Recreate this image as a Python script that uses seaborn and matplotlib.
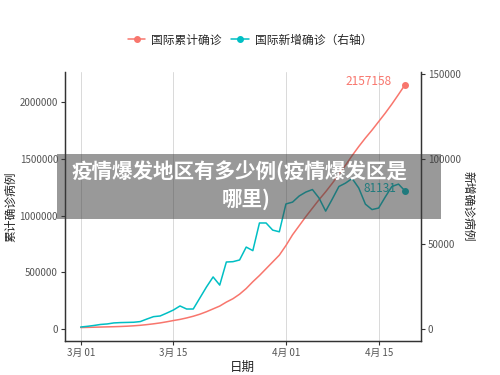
import pandas as pd
import matplotlib.pyplot as plt
import matplotlib.patches as mpatches
from matplotlib.lines import Line2D
import seaborn as sns

# 3/1 .. 4/19
dates = pd.date_range("2020-03-01", "2020-04-19", freq="D")

# cumulative confirmed (left axis)
cum_confirmed = [
    10000, 11500, 13000, 14500, 16000, 17500, 19500, 22000, 25500, 30000,
    36000, 43000, 51000, 61000, 72000, 82000, 95000, 110000, 128000, 150000,
    175000, 200000, 235000, 265000, 305000, 355000, 415000, 470000, 530000, 590000,
    650000, 735000, 830000, 910000, 990000, 1065000, 1140000, 1210000, 1285000, 1365000,
    1445000, 1530000, 1610000, 1685000, 1755000, 1830000, 1905000, 1985000, 2070000, 2157158,
]

# daily new confirmed (right axis)
new_confirmed = [
    1000, 1400, 1900, 2500, 2800, 3400, 3600, 3700, 3800, 4200,
    5700, 7100, 7500, 9200, 11000, 13400, 11600, 11600, 18100, 24600,
    30500, 25700, 39300, 39500, 40500, 48100, 46000, 62300, 62300, 58100,
    57100, 73500, 74600, 78200, 80500, 82000, 77000, 69300, 76400, 83800,
    85800, 88500, 82900, 73400, 70200, 71100, 77600, 83800, 85200, 81131,
]

tick_dates = pd.to_datetime(["2020-03-01", "2020-03-15", "2020-04-01", "2020-04-15"])
tick_labels = ["3月 01", "3月 15", "4月 01", "4月 15"]
left_ticks = [0, 500000, 1000000, 1500000, 2000000]
right_ticks = [0, 50000, 100000, 150000]

series_names = ["国际累计确诊", "国际新增确诊（右轴）"]
red = "#F8766D"
teal = "#00BFC4"

sns.set_theme(style="white")
plt.rcParams["font.family"] = ["Noto Sans CJK SC", "DejaVu Sans"]

fig = plt.figure(figsize=(5, 3.75), dpi=100)
ax = fig.add_axes([0.13, 0.0907, 0.712, 0.717])

sns.lineplot(x=dates, y=cum_confirmed, ax=ax, color=red, lw=1.1)
ax.scatter([dates[-1]], [cum_confirmed[-1]], color=red, s=16, zorder=3)
ax.annotate(f"{cum_confirmed[-1]}", (dates[-1], cum_confirmed[-1]),
            xytext=(-14, 3), textcoords="offset pixels",
            ha="right", va="center", color=red, fontsize=8.5)

ax2 = ax.twinx()
sns.lineplot(x=dates, y=new_confirmed, ax=ax2, color=teal, lw=1.1)
ax2.scatter([dates[-1]], [new_confirmed[-1]], color=teal, s=16, zorder=3)
ax2.annotate(f"{new_confirmed[-1]}", (dates[-1], new_confirmed[-1]),
             xytext=(-9, 3), textcoords="offset pixels",
             ha="right", va="center", color=teal, fontsize=8.5)

ax.set_xlim(pd.Timestamp("2020-03-01") - pd.Timedelta(days=2.37),
            pd.Timestamp("2020-03-01") + pd.Timedelta(days=51.4))
ax.set_ylim(-108700, 2267700)
ax2.set_ylim(-7240, 151200)

ax.set_xticks(tick_dates)
ax.set_xticklabels(tick_labels)
ax.set_yticks(left_ticks)
ax.set_yticklabels([str(v) for v in left_ticks])
ax2.set_yticks(right_ticks)
ax2.set_yticklabels([str(v) for v in right_ticks])

ax.grid(axis="x", color="#d9d9d9", lw=0.7)
ax.grid(axis="y", visible=False)
ax2.grid(False)

for a in (ax, ax2):
    a.spines["top"].set_visible(False)
    for s in ("left", "right", "bottom"):
        a.spines[s].set_color("#333333")
        a.spines[s].set_linewidth(0.9)
    a.tick_params(length=3, width=0.8, color="#333333", labelsize=7,
                  labelcolor="#555555", pad=2)
ax.tick_params(axis="both", bottom=True, left=True)
ax2.tick_params(axis="y", right=True)

ax.set_xlabel("日期", fontsize=9, color="#222222")
ax.xaxis.set_label_coords(0.497, -0.075)
ax.set_ylabel("累计确诊病例", fontsize=8.5, color="#222222", va="center")
ax.yaxis.set_label_coords(-0.152, 0.5)
ax2.set_ylabel("新增确诊病例", fontsize=8.5, color="#222222", rotation=270, va="center")
ax2.yaxis.set_label_coords(1.132, 0.5)

handles = [
    Line2D([], [], color=red, marker="o", ms=4, lw=1.1),
    Line2D([], [], color=teal, marker="o", ms=4, lw=1.1),
]
fig.legend(handles, series_names, loc="center", bbox_to_anchor=(0.5, 0.893),
           ncol=2, frameon=False, fontsize=8.5, handlelength=1.5,
           handletextpad=0.5, columnspacing=0.8)

# grey banner over the chart
banner = mpatches.Rectangle((0.114, 0.416), 0.768, 0.173, transform=fig.transFigure,
                            facecolor="#3c3c3c", alpha=0.52, edgecolor="none", zorder=10)
fig.add_artist(banner)
fig.text(0.478, 0.541, "疫情爆发地区有多少例(疫情爆发区是", ha="center", va="center",
         color="white", fontsize=14.8, fontweight="bold", zorder=11)
fig.text(0.492, 0.469, "哪里)", ha="center", va="center",
         color="white", fontsize=14.8, fontweight="bold", zorder=11)

fig.savefig("out.png", dpi=100)
